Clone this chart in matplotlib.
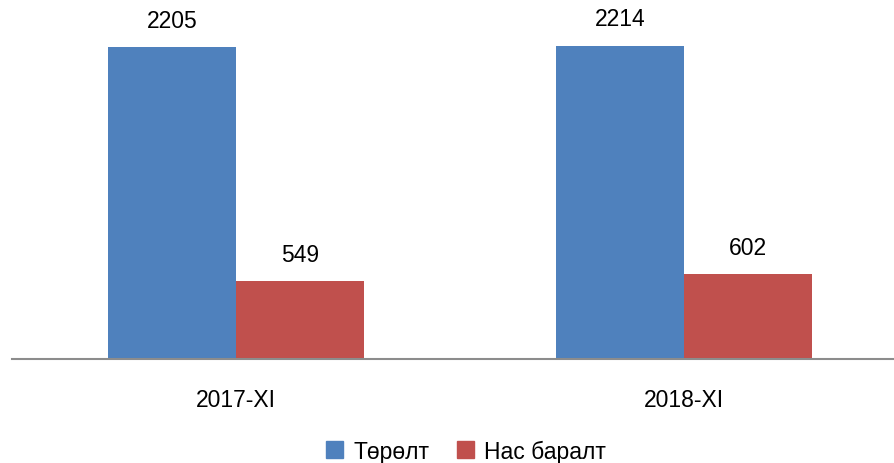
import matplotlib.pyplot as plt
from matplotlib.patches import Patch

# data
categories = ["2017-XI", "2018-XI"]
births = [2205, 2214]
deaths = [549, 602]
series_names = ["Төрөлт", "Нас баралт"]

plt.rcParams['font.family'] = ['Liberation Sans', 'DejaVu Sans']

fig = plt.figure(figsize=(8.94, 4.64), dpi=100)
ax = fig.add_axes([12/894, 104/464, 882/894, 360/464])

x = list(range(len(categories)))
w = 128/448
b1 = ax.bar([i - w/2 for i in x], births, width=w, color='#4F81BD')
b2 = ax.bar([i + w/2 for i in x], deaths, width=w, color='#C0504D')

for bars, vals in ((b1, births), (b2, deaths)):
    for r, v in zip(bars, vals):
        ax.annotate(str(v), (r.get_x() + r.get_width()/2, v), xytext=(0, 11),
                    textcoords='offset points', ha='center', va='bottom', fontsize=16.5)

ax.set_xlim(-0.5, 1.469)
ax.set_ylim(0, 2205*360/312)
ax.set_xticks(x)
ax.set_xticklabels(categories, fontsize=16.5)
ax.tick_params(axis='x', length=0, pad=21)
ax.set_yticks([])
for s in ('top', 'right', 'left'):
    ax.spines[s].set_visible(False)
ax.spines['bottom'].set_color('#8C8C8C')
ax.spines['bottom'].set_linewidth(1.5)

handles = [Patch(color='#4F81BD'), Patch(color='#C0504D')]
fig.legend(handles, series_names, loc='center', bbox_to_anchor=(466/894, 1 - 452/464),
           ncol=2, frameon=False, fontsize=16.5, handlelength=0.75, handleheight=0.75,
           handletextpad=0.45, columnspacing=1.2)

fig.savefig('out.png', dpi=100)
